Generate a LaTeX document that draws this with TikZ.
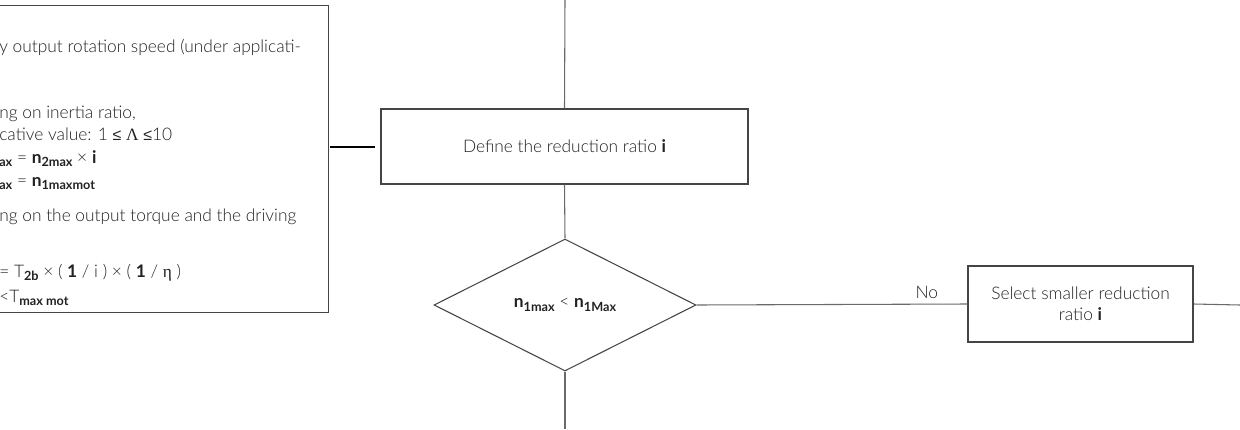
\documentclass[tikz,border=0pt]{standalone}
\usepackage{fontspec}
\setmainfont{Lato}[UprightFont=* Light, BoldFont=* Bold]
\newfontfamily\symfont{Liberation Sans}
\newfontfamily\grkfont{Liberation Serif}
\usetikzlibrary{shapes.geometric}

\definecolor{textgray}{HTML}{222222}
\definecolor{boxline}{HTML}{454545}
\definecolor{linkgray}{HTML}{6A6A6A}

% bold lowered index, as in n_{2max}
\newcommand{\idx}[1]{\raisebox{-0.4ex}{\fontsize{9.5}{10}\selectfont\bfseries #1}}
\newcommand{\relsym}[1]{{\symfont\fontsize{12}{14}\selectfont #1}}

\begin{document}
\begin{tikzpicture}[x=0.75pt, y=-0.75pt,
  box/.style={draw=boxline, line width=0.8pt, fill=white, inner sep=0pt},
  link/.style={draw=linkgray, line width=0.8pt},
  txt/.style={text=textgray, font=\fontsize{13}{16}\selectfont},
  frag/.style={txt, anchor=base west, inner sep=0pt}]

\useasboundingbox (0,0) rectangle (1240,429);

% requirements box, running off the left edge
\begin{scope}
  \clip (0,0) rectangle (1240,429);
  \node[box, minimum width=345*0.75pt, minimum height=307*0.75pt, anchor=north east] (req) at (329,5) {};
  \node[frag] (l1) at (-1,52)  {y output rotation speed (under applicati-};
  \node[frag] (l3) at (-1,118) {ng on inertia ratio,};
  \node[frag] (l4) at (-1,140) {cative value: 1 \relsym{≤} {\grkfont Λ} \relsym{≤}10};
  \node[frag] (l5) at (-1,163) {\idx{ax} = \textbf{n}\idx{2max} × \textbf{i}};
  \node[frag] (l6) at (-1,186) {\idx{ax} = \textbf{n}\idx{1maxmot}};
  \node[frag] (l7) at (-1,221) {ng on the output torque and the driving};
  \node[frag] (l8) at (-1,277) {= T\idx{2b} × ( \textbf{1} / i ) × ( \textbf{1} / {\grkfont η} )};
  \node[frag] (l9) at (-1,302) {<T\idx{max mot}};
\end{scope}

% flow nodes
\node[box, txt, minimum width=367*0.75pt, minimum height=75*0.75pt] (def) at (564.5,146.5)
  {Define the reduction ratio \textbf{i}};
\node[diamond, draw=boxline, line width=0.8pt, txt, inner sep=0pt,
      minimum width=262*0.75pt, minimum height=132*0.75pt, aspect=1.985] (dec) at (565,305)
  {\textbf{n}\idx{1max} < \textbf{n}\idx{1Max}};
\node[box, txt, align=center, minimum width=225*0.75pt, minimum height=76*0.75pt] (sel) at (1080.5,304)
  {Select smaller reduction\\ratio \textbf{i}};

\coordinate (topin) at (565,0);
\coordinate (botout) at (565,429);
\coordinate (rightout) at (1240,305);
\coordinate (linkstart) at (330,147);
\coordinate (linkend) at (375,147);

% connectors
\draw[link] (topin) -- (def.north);
\draw[link] (def.south) -- (dec.north);
\draw[link] (dec.south) -- (botout);
\draw[link] (dec.east) -- node[txt, above, pos=0.85, inner sep=4pt] {No} (sel.west);
\draw[link] (sel.east) -- (rightout);
\draw[black, line width=1.6pt] (linkstart) -- (linkend);
\end{tikzpicture}
\end{document}
